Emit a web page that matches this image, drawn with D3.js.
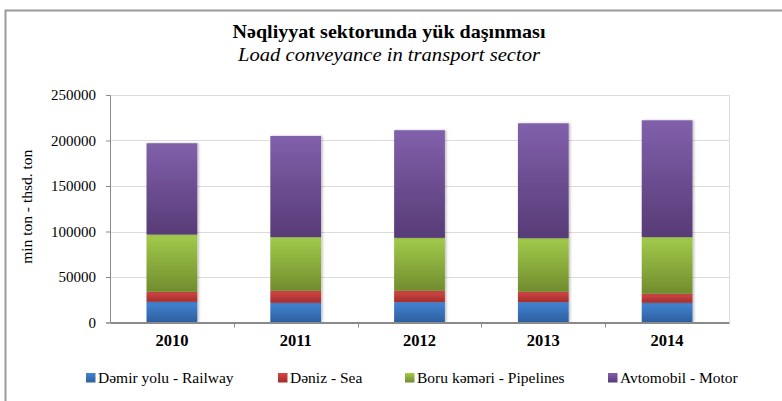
<!DOCTYPE html>
<html>
<head>
<meta charset="utf-8">
<script src="https://cdn.jsdelivr.net/npm/d3@7/dist/d3.min.js"></script>
<style>
  html, body { margin: 0; padding: 0; background: #fff; }
  svg text { font-family: "Liberation Serif", "Tinos", "Times New Roman", "DejaVu Serif", serif !important; }
</style>
</head>
<body>
<svg id="chart" width="782" height="401"></svg>
<script>
// Freight carried by transport mode, thousand tons
const years = ["2010", "2011", "2012", "2013", "2014"];
const railway   = [22700, 21600, 22400, 22400, 21600];
const sea       = [11000, 13200, 12400, 11300,  9900];
const pipelines = [62900, 59000, 58200, 58900, 62300];
const motor     = [100400, 111200, 118300, 126300, 128400];
const seriesNames = ["Dəmir yolu - Railway", "Dəniz - Sea", "Boru kəməri - Pipelines", "Avtomobil - Motor"];
const yTicks = [0, 50000, 100000, 150000, 200000, 250000];

const seriesKeys = ["railway", "sea", "pipelines", "motor"];
const seriesColors = [
  { top: "#4384d3", bottom: "#2d5f9e" },
  { top: "#d44747", bottom: "#a22d2b" },
  { top: "#a2cb4b", bottom: "#718c2e" },
  { top: "#8160ab", bottom: "#573b76" }
];

const rows = years.map((y, i) => ({
  year: y, railway: railway[i], sea: sea[i], pipelines: pipelines[i], motor: motor[i]
}));

const svg = d3.select("#chart");
const margin = { left: 110, right: 53, top: 95, bottom: 78.5 };
const W = 782, H = 401;
const plotW = W - margin.left - margin.right;
const plotH = H - margin.top - margin.bottom;

// Outer frame
svg.append("rect")
  .attr("x", 5.5).attr("y", 10.5).attr("width", 790).attr("height", 400)
  .attr("fill", "none").attr("stroke", "#9a9a9a").attr("stroke-width", 2);

// Titles
svg.append("text").attr("x", 389).attr("y", 38)
  .attr("text-anchor", "middle").attr("font-weight", "bold").attr("font-size", 19)
  .attr("textLength", 313).attr("lengthAdjust", "spacingAndGlyphs")
  .text("Nəqliyyat sektorunda yük daşınması");
svg.append("text").attr("x", 389).attr("y", 61)
  .attr("text-anchor", "middle").attr("font-style", "italic").attr("font-size", 19)
  .attr("textLength", 302).attr("lengthAdjust", "spacingAndGlyphs")
  .text("Load conveyance in transport sector");

// Gradients for bars
const defs = svg.append("defs");
seriesColors.forEach((c, i) => {
  const g = defs.append("linearGradient").attr("id", "grad" + i)
    .attr("x1", 0).attr("y1", 0).attr("x2", 0).attr("y2", 1);
  g.append("stop").attr("offset", "0%").attr("stop-color", c.top);
  g.append("stop").attr("offset", "100%").attr("stop-color", c.bottom);
});
const shadow = defs.append("filter").attr("id", "shadow")
  .attr("x", "-20%").attr("y", "-5%").attr("width", "140%").attr("height", "110%");
shadow.append("feDropShadow").attr("dx", 1.5).attr("dy", 0).attr("stdDeviation", 1.2)
  .attr("flood-color", "#000").attr("flood-opacity", 0.25);

const g = svg.append("g").attr("transform", `translate(${margin.left},${margin.top})`);

const x = d3.scaleBand().domain(years).range([0, plotW]).paddingInner(0.59).paddingOuter(0.295);
const y = d3.scaleLinear().domain([0, 250000]).range([plotH, 0]);

// Gridlines
g.append("g").selectAll("line").data(yTicks.slice(1)).join("line")
  .attr("x1", 0).attr("x2", plotW)
  .attr("y1", d => Math.round(y(d)) + 0.5).attr("y2", d => Math.round(y(d)) + 0.5)
  .attr("stroke", "#dcdcdc");
// Plot area right edge
g.append("line").attr("x1", plotW + 0.5).attr("x2", plotW + 0.5)
  .attr("y1", 0).attr("y2", plotH).attr("stroke", "#dcdcdc");

// Stacked bars
const stack = d3.stack().keys(seriesKeys)(rows);
g.append("g").selectAll("g").data(stack).join("g")
  .attr("fill", (d, i) => `url(#grad${i})`)
  .attr("filter", "url(#shadow)")
  .selectAll("rect").data(d => d).join("rect")
  .attr("x", d => x(d.data.year))
  .attr("width", x.bandwidth())
  .attr("y", d => y(d[1]))
  .attr("height", d => y(d[0]) - y(d[1]));

// Y axis
const yAxis = g.append("g")
  .call(d3.axisLeft(y).tickValues(yTicks).tickSize(4).tickPadding(10).tickFormat(d3.format("d")));
yAxis.select(".domain").attr("stroke", "#8a8a8a");
yAxis.selectAll(".tick line").attr("stroke", "#8a8a8a");
yAxis.selectAll("text").attr("font-size", 15).attr("fill", "#000");

// X axis with ticks at category boundaries
const xAxis = g.append("g").attr("transform", `translate(0,${plotH})`)
  .call(d3.axisBottom(x).tickSize(0).tickPadding(12));
xAxis.select(".domain").attr("stroke", "#8a8a8a").attr("stroke-width", 2);
xAxis.selectAll("text").attr("font-size", 16.5).attr("font-weight", "bold").attr("fill", "#000");
const step = x.step();
const bounds = years.slice(1).map((yr) => x(yr) - (step - x.bandwidth()) / 2);
g.append("g").selectAll("line").data(bounds).join("line")
  .attr("x1", d => Math.round(d) + 0.5).attr("x2", d => Math.round(d) + 0.5)
  .attr("y1", plotH).attr("y2", plotH + 5).attr("stroke", "#8a8a8a");

// Y axis title
svg.append("text")
  .attr("transform", `translate(32,${margin.top + plotH / 2 - 2}) rotate(-90)`)
  .attr("text-anchor", "middle").attr("font-size", 15.5)
  .text("min ton - thsd. ton");

// Legend
const legendX = [86, 278, 405, 608];
const legend = svg.append("g").selectAll("g").data(seriesNames).join("g")
  .attr("transform", (d, i) => `translate(${legendX[i]},373)`);
legend.append("rect").attr("width", 9.5).attr("height", 9.5)
  .attr("fill", (d, i) => `url(#grad${i})`);
legend.append("text").attr("x", 12).attr("y", 10).attr("font-size", 15.5)
  .text(d => d);
</script>
</body>
</html>
